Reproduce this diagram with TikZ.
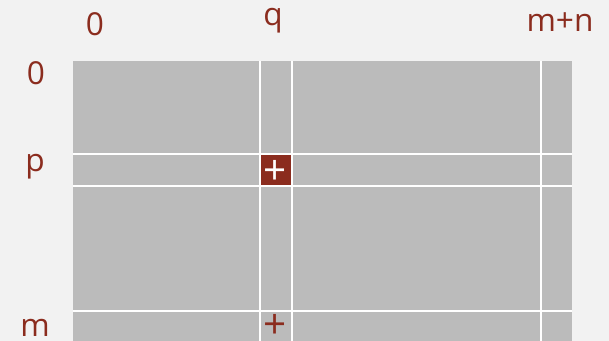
\documentclass[tikz,border=0pt]{standalone}
\usepackage{fontspec}
\setmainfont{Open Sans}
\definecolor{bgcol}{HTML}{F2F2F2}
\definecolor{cellgray}{HTML}{BBBBBB}
\definecolor{darkred}{HTML}{8B2C1E}
\tikzset{
  lbl/.style={text=darkred, font=\fontsize{18}{20}\selectfont, anchor=base, inner sep=0pt},
  gridline/.style={draw=white, line width=0.9pt},
  pivot/.style={fill=darkred, minimum width=0.6cm, minimum height=0.6cm, inner sep=0pt},
  plussign/.style={inner sep=0pt, font=\fontsize{23}{25}\selectfont}
}
\begin{document}
\begin{tikzpicture}[x=0.02cm, y=-0.02cm]
  \fill[bgcol] (0,0) rectangle (609,341);
  \useasboundingbox (0,0) rectangle (609,341);
  % tableau
  \fill[cellgray] (73,61) rectangle (572,341);
  \foreach \xx in {260,292,541}
    \draw[gridline] (\xx,61) -- (\xx,341);
  \foreach \yy in {154,186,311}
    \draw[gridline] (73,\yy) -- (572,\yy);
  % pivot entry
  \node[pivot] (piv) at (276,170) {};
  \node[plussign, text=white] (plusp) at (275.5,172) {+};
  \node[plussign, text=darkred] (plusm) at (275,326) {+};
  % column labels
  \node[lbl] (col0) at (95,36) {0};
  \node[lbl] (colq) at (273,26) {q};
  \node[lbl] (colmn) at (560,32) {m+n};
  % row labels
  \node[lbl] (row0) at (36,85) {0};
  \node[lbl] (rowp) at (35,172) {p};
  \node[lbl] (rowm) at (35,336) {m};
\end{tikzpicture}
\end{document}
